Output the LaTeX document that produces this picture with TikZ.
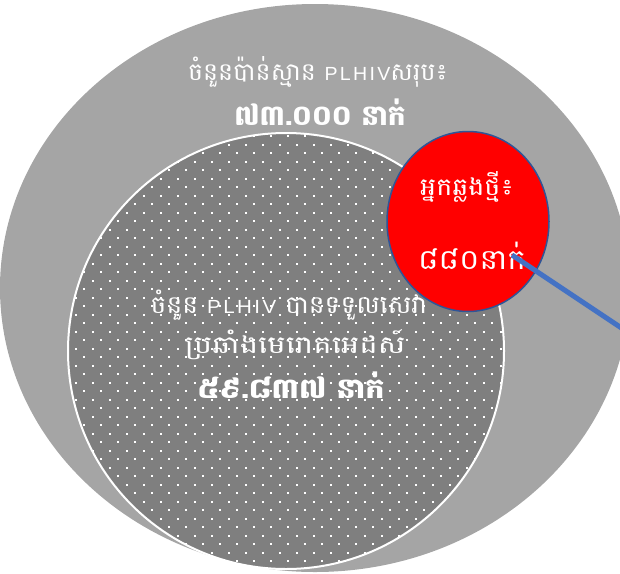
\documentclass[tikz,border=0pt]{standalone}
\usepackage{fontspec}
\usetikzlibrary{shapes.geometric}
\newfontfamily\khmer[Script=Khmer]{Battambang}
\newfontfamily\latinsf[LetterSpace=12]{Liberation Sans}
\newcommand{\lat}[1]{{\latinsf\fontsize{19}{21}\selectfont #1}}
\definecolor{outergrey}{HTML}{A5A5A5}
\definecolor{innergrey}{HTML}{7F7F7F}
\definecolor{redfill}{HTML}{FF0000}
\definecolor{redline}{HTML}{2F5597}
\definecolor{blueline}{HTML}{4472C4}
\tikzset{
  txt/.style={text=white, inner sep=0pt, align=center},
  reg/.style={txt, font=\khmer\fontsize{24.5}{28}\selectfont},
  big/.style={txt, font=\khmer\bfseries\fontsize{28}{32}\selectfont},
  dotmark/.style={fill=white},
}
\begin{document}
\begin{tikzpicture}[x=1pt,y=-1pt]
\useasboundingbox (0,0) rectangle (620,573);
\clip (0,0) rectangle (620,573);
% outer ellipse
\node[ellipse, fill=outergrey, inner sep=0pt, minimum width=630pt, minimum height=568pt] (outer) at (315,288) {};
% inner dotted circle
\node[circle, fill=innergrey, inner sep=0pt, minimum size=436pt] (inner) at (286,351) {};
\begin{scope}
  \clip (286,351) circle (218);
  \foreach \j in {-36,...,17} {
    \foreach \i in {-5,...,23} {
      \fill[dotmark] ({126.7+17*\i+8.5*Mod(\j,2)-1.1},{433.7+8.5*\j-1.1}) rectangle +(2.2,2.2);
    }
  }
\end{scope}
\node[circle, draw=white, line width=2pt, inner sep=0pt, minimum size=436pt] (innerline) at (286,351) {};
% red ellipse
\node[ellipse, fill=redfill, draw=redline, line width=1.5pt, inner sep=0pt, minimum width=162pt, minimum height=180pt] (new) at (468,221.5) {};
% texts
\node[reg] (o1) at (318,72) {\scalebox{1.03}[1]{ចំនួនប៉ាន់ស្មាន \lat{PLHIV}សរុប៖}};
\node[big] (o2) at (320,112) {៧៣.០០០ នាក់};
\node[reg] (i1) at (289,305) {\scalebox{1.08}[1]{ចំនួន \lat{PLHIV} បានទទួលសេវា}};
\node[reg] (i2) at (295,345) {\scalebox{1.26}[1]{ប្រឆាំងមេរោគអេដស៍}};
\node[big] (i3) at (291,385) {\scalebox{1.08}[1]{៥៩.៨៣៧ នាក់}};
\node[reg] (r1) at (467,187) {\scalebox{1.1}[1]{អ្នកឆ្លងថ្មី៖}};
\node[txt, font=\khmer\fontsize{28}{32}\selectfont] (r2) at (472,256) {\scalebox{1.11}[1]{៨៨០នាក់}};
% connector
\coordinate (lstart) at (512,255);
\coordinate (lend) at (650,347);
\draw[blueline, line width=5pt] (lstart) -- (lend);
\end{tikzpicture}
\end{document}
